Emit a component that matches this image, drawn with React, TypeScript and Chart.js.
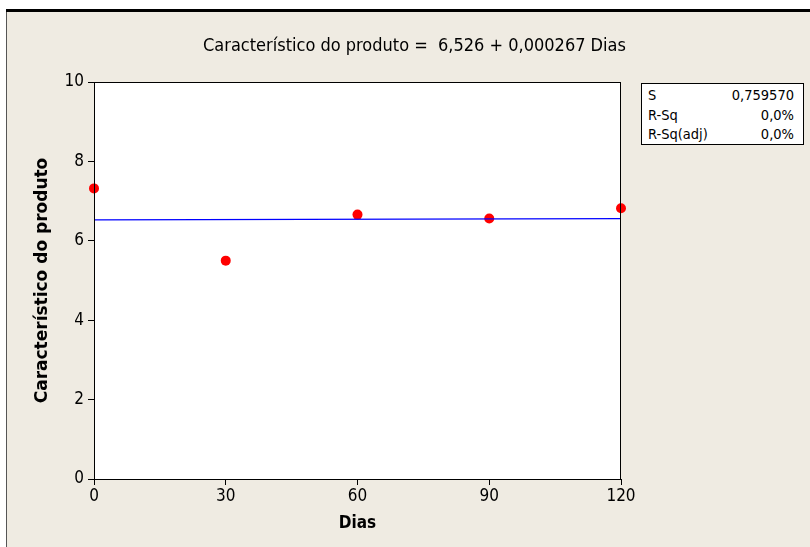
import React, { useEffect, useRef } from "react";
import { Chart, registerables } from "chart.js";

Chart.register(...registerables);

const dias = [0, 30, 60, 90, 120];
const caracteristico = [7.32, 5.5, 6.66, 6.56, 6.82];
const fitIntercept = 6.526;
const fitSlope = 0.000267;
const xTicks = [0, 30, 60, 90, 120];
const yTicks = [0, 2, 4, 6, 8, 10];
const titleText = "Característico do produto =  6,526 + 0,000267 Dias";
const statLabels = ["S", "R-Sq", "R-Sq(adj)"];
const statValues = ["0,759570", "0,0%", "0,0%"];

const FONT = '"DejaVu Sans Condensed", "DejaVu Sans", sans-serif';
const FONT_WIDE = '"DejaVu Sans", sans-serif';
const BG = "#EFEBE2";

const plotFrame = {
  id: "plotFrame",
  beforeDraw(chart: any) {
    const { ctx, chartArea: a } = chart;
    ctx.save();
    ctx.fillStyle = "#ffffff";
    ctx.fillRect(a.left, a.top, a.right - a.left, a.bottom - a.top);
    ctx.restore();
  },
  afterDraw(chart: any) {
    const { ctx, chartArea: a } = chart;
    ctx.save();
    ctx.strokeStyle = "#000000";
    ctx.lineWidth = 1;
    ctx.strokeRect(a.left + 0.5, a.top + 0.5, a.right - a.left - 1, a.bottom - a.top);
    ctx.restore();
  },
};

export default function App() {
  const ref = useRef<HTMLCanvasElement>(null);
  useEffect(() => {
    const fitLine = [0, 120].map((x) => ({ x, y: fitIntercept + fitSlope * x }));
    const chart = new Chart(ref.current!, {
      type: "scatter",
      data: {
        datasets: [
          {
            type: "line",
            data: fitLine,
            borderColor: "#0000FF",
            borderWidth: 1.3,
            pointRadius: 0,
            fill: false,
          } as any,
          {
            data: dias.map((x, i) => ({ x, y: caracteristico[i] })),
            backgroundColor: "#FF0000",
            borderColor: "#FF0000",
            pointRadius: 5,
            pointBorderWidth: 0,
            clip: false,
          } as any,
        ],
      },
      options: {
        animation: false,
        responsive: false,
        devicePixelRatio: 1,
        layout: { padding: { left: 7, top: 82, right: 189, bottom: 0 } },
        plugins: { legend: { display: false }, tooltip: { enabled: false }, title: { display: false } },
        scales: {
          x: {
            type: "linear",
            min: 0,
            max: 120,
            afterBuildTicks: (s: any) => { s.ticks = xTicks.map((v) => ({ value: v })); },
            afterFit: (s: any) => { s.height = 68; },
            ticks: { color: "#000", font: { family: FONT, size: 17 }, padding: 1 },
            grid: { drawOnChartArea: false, drawTicks: true, tickLength: 6, color: "#000", tickColor: "#000" },
            border: { display: true, color: "#000", width: 1 },
            title: { display: true, text: "Dias", color: "#000", font: { family: FONT, size: 17, weight: "bold" }, padding: { top: 0, bottom: 13 } },
          },
          y: {
            type: "linear",
            min: 0,
            max: 10,
            afterBuildTicks: (s: any) => { s.ticks = yTicks.map((v) => ({ value: v })); },
            afterFit: (s: any) => { s.width = 87; },
            ticks: { color: "#000", font: { family: FONT, size: 17 }, padding: 4 },
            grid: { drawOnChartArea: false, drawTicks: true, tickLength: 6, color: "#000", tickColor: "#000" },
            border: { display: true, color: "#000", width: 1 },
            title: { display: true, text: "Característico do produto", color: "#000", font: { family: FONT_WIDE, size: 17, weight: "bold" }, padding: { top: 25, bottom: 0 } },
          },
        },
      },
      plugins: [plotFrame],
    } as any);
    return () => chart.destroy();
  }, []);

  return (
    <div style={{ position: "fixed", left: 0, top: 0, width: 810, height: 547, background: "#fff", overflow: "hidden" }}>
      <div style={{ position: "absolute", left: 6, top: 9, right: 0, height: 3, background: "#000" }} />
      <div style={{ position: "absolute", left: 6, top: 12, width: 1, bottom: 0, background: "#555" }} />
      <div style={{ position: "absolute", left: 7, top: 12, right: 0, bottom: 0, background: BG }} />
      <canvas ref={ref} width={810} height={547} style={{ position: "absolute", left: 0, top: 0 }} />
      <div style={{ position: "absolute", left: 0, width: 829, top: 34, textAlign: "center", fontFamily: FONT, fontSize: 18, color: "#000", whiteSpace: "pre" }}>
        {titleText}
      </div>
      <div style={{ position: "absolute", left: 641, top: 83, width: 161, height: 60, background: "#fff", border: "1px solid #000", fontFamily: FONT, fontSize: 14.5, color: "#000" }}>
        {statLabels.map((l, i) => (
          <div key={l} style={{ position: "absolute", left: 6, right: 9, top: 1 + i * 19.5, height: 20, lineHeight: "20px", display: "flex", justifyContent: "space-between" }}>
            <span>{l}</span>
            <span>{statValues[i]}</span>
          </div>
        ))}
      </div>
    </div>
  );
}
